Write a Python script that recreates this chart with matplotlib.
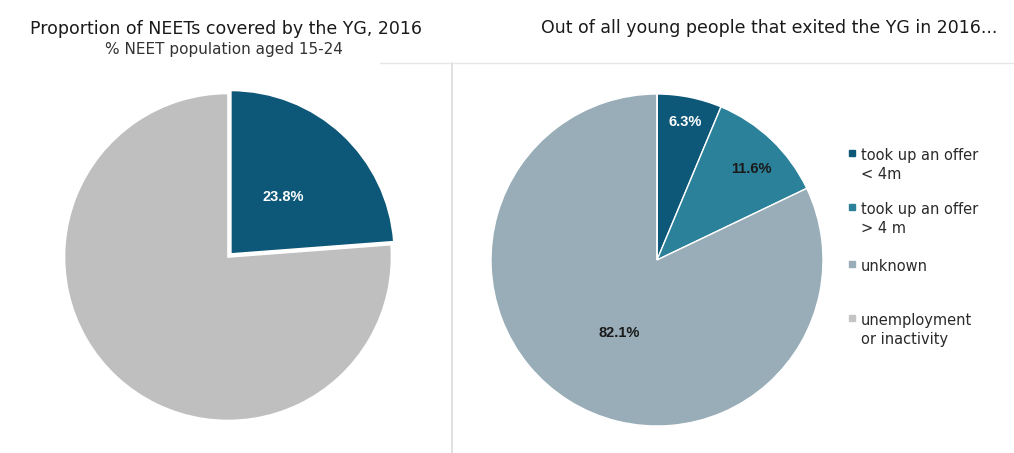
"""
NEET / Youth Guarantee pie charts, 2016
"""
import matplotlib
matplotlib.use("Agg")
import matplotlib.pyplot as plt
from matplotlib.lines import Line2D
from matplotlib.patches import Rectangle

plt.rcParams['font.family'] = ['DejaVu Sans']

# 左图数据
left_labels = ['covered by the YG', 'not covered']
left_values = [23.8, 76.2]
left_colors = ['#0d5878', '#bfbfbf']

# 右图数据
right_labels = ['took up an offer\n< 4m', 'took up an offer\n> 4 m', 'unknown',
                'unemployment\nor inactivity']
right_values = [6.3, 11.6, 82.1, 0.0]
right_colors = ['#0d5878', '#2b8199', '#98adb8', '#c4c4c4']

W, H = 1014, 453
fig = plt.figure(figsize=(W / 100, H / 100), dpi=100)


def px_axes(cx, cy, r):
    """按像素中心和半径创建饼图坐标轴"""
    ax = fig.add_axes([(cx - r) / W, (H - cy - r) / H, 2 * r / W, 2 * r / H])
    ax.axis('off')
    return ax


def fx(x):
    return x / W


def fy(y):
    return (H - y) / H


# 左侧饼图
ax1 = px_axes(228, 257, 166)
ax1.pie(left_values, colors=left_colors, startangle=90, counterclock=False,
        explode=[0.025, 0], radius=0.985,
        wedgeprops=dict(edgecolor='white', linewidth=1.2))
ax1.set_xlim(-1, 1)
ax1.set_ylim(-1, 1)
ax1.set_aspect('equal')
ax1.text(0.33, 0.36, f"{left_values[0]}%", color='white', fontsize=10.5,
         fontweight='bold', family='Liberation Sans', ha='center', va='center')

# 右侧饼图
ax2 = px_axes(657, 260, 166)
ax2.pie(right_values, colors=right_colors, startangle=90, counterclock=False,
        radius=1.0, wedgeprops=dict(edgecolor='white', linewidth=1.0))
ax2.set_xlim(-1, 1)
ax2.set_ylim(-1, 1)
ax2.set_aspect('equal')
label_pos = [(0.17, 0.83, 'white'), (0.57, 0.55, '#1a1a1a'), (-0.23, -0.44, '#1a1a1a')]
for v, (x, y, c) in zip(right_values, label_pos):
    ax2.text(x, y, f"{v}%", color=c, fontsize=10.5, fontweight='bold',
             family='Liberation Sans', ha='center', va='center')

# 图例（手动绘制，每行单独放置）
legend_base = [160, 214, 271, 325]
line_gap = 19
for lab, col, y in zip(right_labels, right_colors, legend_base):
    fig.patches.append(Rectangle((fx(849), fy(y - 4)), 6 / W, 6 / H,
                                 transform=fig.transFigure, color=col))
    for i, part in enumerate(lab.split('\n')):
        fig.text(fx(861), fy(y + i * line_gap), part, fontsize=10.5,
                 color='#2a2a2a', ha='left', va='baseline')

# 标题
fig.text(fx(226), fy(34), 'Proportion of NEETs covered by the YG, 2016',
         fontsize=12.5, color='#1a1a1a', ha='center', va='baseline')
fig.text(fx(224), fy(54), '% NEET population aged 15-24',
         fontsize=11, color='#333333', ha='center', va='baseline')
fig.text(fx(769), fy(33), 'Out of all young people that exited the YG in 2016...',
         fontsize=12.5, color='#1a1a1a', ha='center', va='baseline')

# 分隔线
fig.add_artist(Line2D([fx(452), fx(452)], [0, fy(63)], color='#dcdcdc',
                      linewidth=1.2, transform=fig.transFigure))
fig.add_artist(Line2D([fx(380), 1], [fy(63), fy(63)], color='#e6e6e6',
                      linewidth=1.0, transform=fig.transFigure))

fig.savefig('out.png', dpi=100, facecolor='white')
